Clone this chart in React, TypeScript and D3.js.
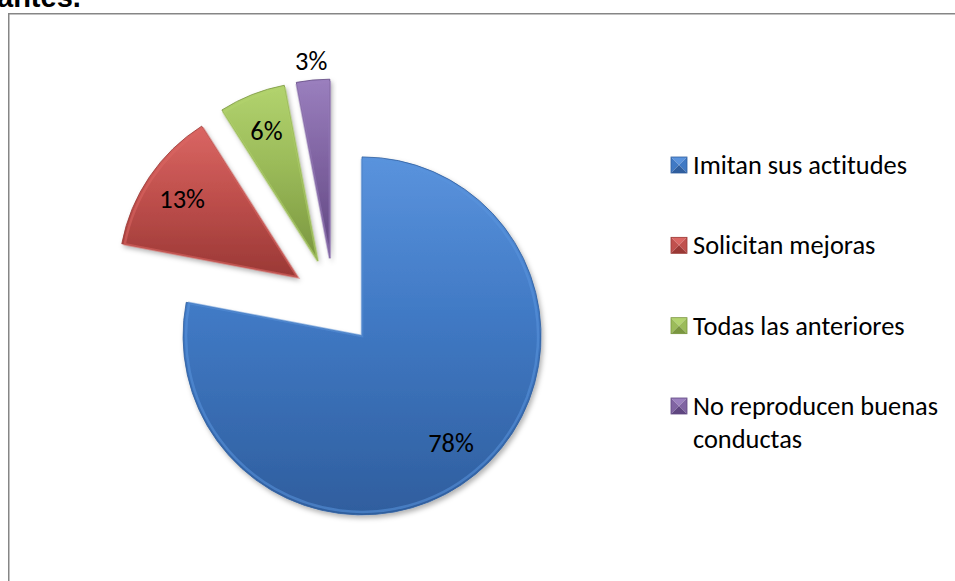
import * as d3 from "d3";
import { useEffect, useRef } from "react";

const categories = [
  "Imitan sus actitudes",
  "Solicitan mejoras",
  "Todas las anteriores",
  "No reproducen buenas conductas",
];
const legendLines = [
  ["Imitan sus actitudes"],
  ["Solicitan mejoras"],
  ["Todas las anteriores"],
  ["No reproducen buenas", "conductas"],
];
const values = [78, 13, 6, 3];
const colors = ["#4079C4", "#C0504D", "#9BBB59", "#8064A2"];
const lightColors = ["#5A93DD", "#DA6663", "#B2D36E", "#9A7FBE"];
const darkColors = ["#2F5E9E", "#9A3835", "#7A963F", "#5F4680"];

const W = 955;
const H = 581;

export default function App() {
  const ref = useRef<SVGSVGElement | null>(null);

  useEffect(() => {
    const el = ref.current;
    if (!el) return;
    const svg = d3.select(el);
    svg.selectAll("*").remove();

    const font = "Carlito, Calibri, Lato, 'Open Sans', sans-serif";
    const fs = 26.4;
    const cx = 334;
    const cy = 302;
    const R = 179;
    const explode = 44;

    const defs = svg.append("defs");
    colors.forEach((c, i) => {
      const g = defs
        .append("linearGradient")
        .attr("id", `grad${i}`)
        .attr("x1", 0)
        .attr("y1", 0)
        .attr("x2", 0)
        .attr("y2", 1);
      g.append("stop").attr("offset", "0%").attr("stop-color", lightColors[i]);
      g.append("stop").attr("offset", "45%").attr("stop-color", c);
      g.append("stop").attr("offset", "100%").attr("stop-color", darkColors[i]);
    });
    const sh = defs
      .append("filter")
      .attr("id", "shadow")
      .attr("x", "-20%")
      .attr("y", "-20%")
      .attr("width", "140%")
      .attr("height", "140%");
    sh.append("feDropShadow")
      .attr("dx", 2)
      .attr("dy", 3)
      .attr("stdDeviation", 2.5)
      .attr("flood-color", "#000")
      .attr("flood-opacity", 0.3);

    // title fragment, cut off at the top like the source
    svg
      .append("text")
      .attr("x", -3)
      .attr("y", 7)
      .attr("font-family", "'Liberation Sans', Arial, sans-serif")
      .attr("font-weight", "bold")
      .attr("font-size", 29)
      .attr("fill", "#000")
      .text("antes.");

    // chart frame
    svg
      .append("rect")
      .attr("x", 8.75)
      .attr("y", 13.75)
      .attr("width", W)
      .attr("height", H)
      .attr("fill", "#fff")
      .attr("stroke", "#868686")
      .attr("stroke-width", 1.5);

    const pie = d3
      .pie<number>()
      .sort(null)
      .value((d) => d);
    const arcs = pie(values);
    const arc = d3.arc<d3.PieArcDatum<number>>().innerRadius(0).outerRadius(R);
    const inner = d3
      .arc<d3.PieArcDatum<number>>()
      .innerRadius(0)
      .outerRadius(R - 3);

    const g = svg.append("g").attr("transform", `translate(${cx},${cy})`);

    arcs.forEach((a, i) => {
      const mid = (a.startAngle + a.endAngle) / 2;
      const ox = explode * Math.sin(mid);
      const oy = -explode * Math.cos(mid);
      const sg = g.append("g").attr("transform", `translate(${ox},${oy})`);
      sg.append("path")
        .attr("d", arc(a) as string)
        .attr("fill", `url(#grad${i})`)
        .attr("filter", "url(#shadow)")
        .attr("stroke", darkColors[i])
        .attr("stroke-width", 0.8);
      // bevel highlight along edges
      sg.append("path")
        .attr("d", inner(a) as string)
        .attr("fill", "none")
        .attr("stroke", lightColors[i])
        .attr("stroke-opacity", 0.55)
        .attr("stroke-width", 2.5);

      const outside = a.data < 5;
      const lr = outside ? R + 19 : R * 0.78;
      sg.append("text")
        .attr("x", lr * Math.sin(mid))
        .attr("y", -lr * Math.cos(mid))
        .attr("text-anchor", "middle")
        .attr("dominant-baseline", "central")
        .attr("font-family", font)
        .attr("font-size", fs)
        .attr("fill", "#000")
        .text(`${a.data}%`);
    });

    // legend
    const lx = 671;
    const rowY = d3
      .scalePoint<string>()
      .domain(categories)
      .range([165, 406]);
    const m = 16;
    categories.forEach((c, i) => {
      const y = rowY(c) as number;
      const lg = svg.append("g").attr("transform", `translate(${lx},${y - m / 2})`);
      const tri = (pts: [number, number][], col: string) =>
        lg
          .append("path")
          .attr("d", d3.line()(pts) + "Z")
          .attr("fill", col);
      const cm = m / 2;
      tri([[0, 0], [m, 0], [cm, cm]], lightColors[i]);
      tri([[0, 0], [0, m], [cm, cm]], colors[i]);
      tri([[m, 0], [m, m], [cm, cm]], colors[i]);
      tri([[0, m], [m, m], [cm, cm]], darkColors[i]);
      lg.append("rect")
        .attr("width", m)
        .attr("height", m)
        .attr("fill", "none")
        .attr("stroke", darkColors[i])
        .attr("stroke-width", 0.8);
      legendLines[i].forEach((ln, j) => {
        svg
          .append("text")
          .attr("x", lx + 22)
          .attr("y", y + j * 33)
          .attr("dominant-baseline", "central")
          .attr("font-family", font)
          .attr("font-size", fs)
          .style("font-variant-ligatures", "none")
          .attr("fill", "#000")
          .text(ln);
      });
    });
  }, []);

  return (
    <svg
      ref={ref}
      width={W}
      height={H}
      style={{ position: "absolute", left: 0, top: 0, background: "#fff" }}
    />
  );
}
